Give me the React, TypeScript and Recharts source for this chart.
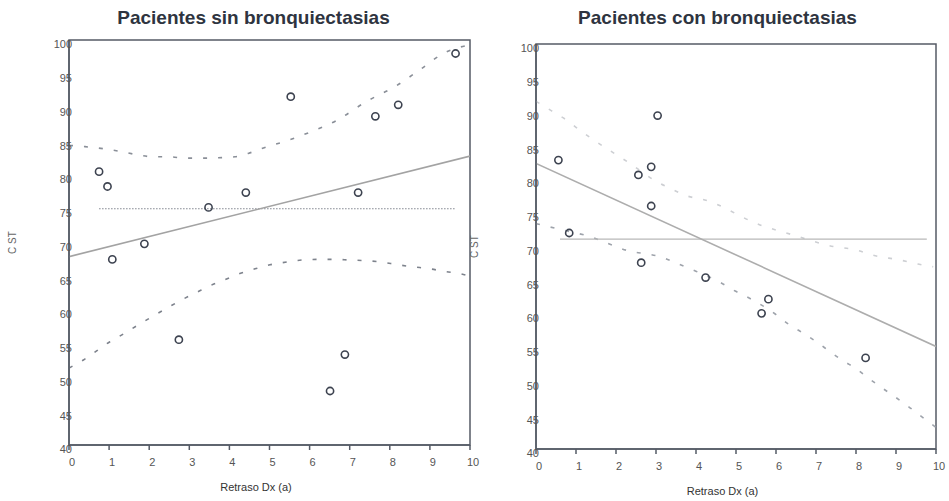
import React from "react";
import { ComposedChart, Scatter, Line, XAxis, YAxis, ReferenceArea, Label } from "recharts";

const xTicks = [0, 1, 2, 3, 4, 5, 6, 7, 8, 9, 10];
const yTicks = [40, 45, 50, 55, 60, 65, 70, 75, 80, 85, 90, 95, 100];

// ── Pacientes sin bronquiectasias ──────────────────────────────────────────
const sinX = [0.75, 0.96, 1.08, 1.88, 2.74, 3.48, 4.41, 5.53, 6.51, 6.88, 7.21, 7.64, 8.21, 9.64];
const sinY = [80.5, 78.3, 67.5, 69.8, 55.6, 75.2, 77.4, 91.6, 48.0, 53.4, 77.4, 88.7, 90.4, 98.0];
const sinFitX = [0, 10];
const sinFitY = [67.9, 82.8];
const sinMeanX = [0.75, 9.64];
const sinMeanY = [75.0, 75.0];
const sinUpX = [0, 0.4, 0.85, 1.27, 1.7, 2.09, 2.47, 2.92, 3.34, 4.14, 4.47, 4.85, 5.5, 5.99, 6.68, 7.42, 8.13, 8.8, 9.33, 10];
const sinUpY = [84.4, 84.2, 83.9, 83.5, 83.0, 82.7, 82.7, 82.5, 82.5, 82.7, 83.2, 84.0, 85.2, 86.3, 88.1, 90.9, 93.1, 95.8, 98.0, 99.3];
const sinLoX = [0, 0.36, 1.02, 1.4, 1.73, 2.1, 2.48, 2.81, 3.18, 3.52, 3.89, 4.26, 4.64, 5.01, 5.43, 5.8, 6.2, 6.63, 7.0, 7.42, 7.8, 8.2, 8.58, 9.0, 9.38, 9.75, 10];
const sinLoY = [51.4, 52.6, 55.3, 56.6, 57.8, 59.1, 60.4, 61.5, 62.6, 63.6, 64.5, 65.4, 66.1, 66.7, 67.1, 67.4, 67.5, 67.5, 67.4, 67.3, 67.1, 66.7, 66.4, 66.1, 65.7, 65.4, 65.0];

// ── Pacientes con bronquiectasias ──────────────────────────────────────────
const conX = [0.56, 0.83, 2.56, 2.63, 2.88, 2.88, 3.04, 4.24, 5.64, 5.81, 8.24];
const conY = [82.8, 72.0, 80.6, 67.6, 81.8, 76.0, 89.4, 65.4, 60.1, 62.2, 53.5];
const conFitX = [0, 10];
const conFitY = [82.3, 55.2];
const conMeanX = [0.6, 9.77];
const conMeanY = [71.1, 71.1];
const conUpX = [0, 0.39, 0.77, 1.06, 1.39, 2.35, 3.02, 3.39, 3.77, 4.22, 5.6, 6.43, 7.43, 8.0, 8.43, 9.1, 9.55, 9.93];
const conUpY = [91.5, 90.1, 88.7, 87.4, 86.0, 82.3, 79.6, 78.5, 77.5, 76.9, 73.2, 71.7, 70.0, 69.5, 68.7, 68.0, 67.4, 67.0];
const conLoX = [0, 0.48, 1.27, 2.43, 2.77, 3.1, 3.52, 3.89, 4.6, 4.98, 5.35, 5.98, 6.31, 6.64, 6.98, 7.31, 7.64, 7.98, 8.31, 8.64, 8.98, 9.31, 9.64, 10];
const conLoY = [73.4, 72.7, 71.6, 69.2, 68.9, 68.5, 67.5, 66.6, 64.7, 63.4, 62.3, 60.0, 58.5, 57.3, 56.0, 54.6, 53.2, 52.0, 50.5, 49.1, 47.7, 46.3, 44.8, 43.2];

const FONT = '"Liberation Sans", Arial, Helvetica, sans-serif';
const AXIS = "#555b66";
const TEXT = "#555555";

const pts = (xs: number[], ys: number[]) => xs.map((x, i) => ({ x, y: ys[i] }));

function XTick({ x, y, payload }: any) {
    return (
        <text x={x + 3} y={y + 6} dy="0.71em" textAnchor="middle" fontSize={11} fill={TEXT} stroke="none" fontFamily={FONT}>
            {payload.value}
        </text>
    );
}

function YTick({ x, y, payload }: any) {
    return (
        <text x={x + 3} y={y + 4.5} dy="0.35em" textAnchor="end" fontSize={11} fill={TEXT} stroke="none" fontFamily={FONT}>
            {payload.value}
        </text>
    );
}

function Circle({ cx, cy }: any) {
    return <circle cx={cx} cy={cy} r={3.6} fill="none" stroke="#3d4350" strokeWidth={1.6} />;
}

type PanelProps = {
    left: number;
    width: number;
    margin: { top: number; right: number; bottom: number; left: number };
    yWidth: number;
    yLabelX: number;
    points: { x: number; y: number }[];
    fit: { x: number; y: number }[];
    mean: { x: number; y: number }[];
    upper: { x: number; y: number }[];
    lower: { x: number; y: number }[];
    fitStroke: string;
    meanStroke: string;
    meanDash?: string;
    upperStroke: string;
    lowerStroke: string;
};

function Panel(p: PanelProps) {
    return (
        <div style={{ position: "absolute", left: p.left, top: 0 }}>
            <ComposedChart width={p.width} height={501} margin={p.margin}>
                <XAxis
                    type="number"
                    dataKey="x"
                    domain={[0, 10]}
                    ticks={xTicks}
                    interval={0}
                    allowDataOverflow
                    height={30}
                    tickSize={5}
                    tickMargin={2}
                    tick={<XTick />}
                    axisLine={{ stroke: AXIS, strokeWidth: 1.5 }}
                    tickLine={{ stroke: AXIS, strokeWidth: 1.5 }}
                >
                    <Label
                        content={({ viewBox }: any) => (
                            <text
                                x={viewBox.x + viewBox.width / 2 - 13.5}
                                y={viewBox.y + 45.5}
                                textAnchor="middle"
                                fontSize={11}
                                fill="#333"
                                fontFamily={FONT}
                            >
                                Retraso Dx (a)
                            </text>
                        )}
                    />
                </XAxis>
                <YAxis
                    type="number"
                    dataKey="y"
                    domain={[40, 100]}
                    ticks={yTicks}
                    interval={0}
                    allowDataOverflow
                    width={p.yWidth}
                    tickSize={0}
                    tickMargin={0}
                    tickLine={false}
                    tick={<YTick />}
                    axisLine={{ stroke: AXIS, strokeWidth: 1.5 }}
                >
                    <Label
                        content={({ viewBox }: any) => {
                            const lx = viewBox.x + p.yLabelX;
                            const ly = viewBox.y + viewBox.height / 2;
                            return (
                                <text
                                    x={lx}
                                    y={ly}
                                    transform={`rotate(-90, ${lx}, ${ly})`}
                                    textAnchor="middle"
                                    fontSize={10}
                                    fill="#666"
                                    fontFamily={FONT}
                                >
                                    C ST
                                </text>
                            );
                        }}
                    />
                </YAxis>
                <Line data={p.upper} dataKey="y" type="monotone" stroke={p.upperStroke} strokeWidth={1.6} strokeDasharray="4 11" dot={false} isAnimationActive={false} />
                <Line data={p.lower} dataKey="y" type="monotone" stroke={p.lowerStroke} strokeWidth={1.6} strokeDasharray="4 11" dot={false} isAnimationActive={false} />
                <Line data={p.mean} dataKey="y" type="linear" stroke={p.meanStroke} strokeWidth={1.1} strokeDasharray={p.meanDash} dot={false} isAnimationActive={false} />
                <Line data={p.fit} dataKey="y" type="linear" stroke={p.fitStroke} strokeWidth={1.6} dot={false} isAnimationActive={false} />
                <Scatter data={p.points} dataKey="y" shape={<Circle />} isAnimationActive={false} />
                <ReferenceArea x1={0} x2={10} y1={40} y2={100} fill="none" stroke={AXIS} strokeWidth={1.5} />
            </ComposedChart>
        </div>
    );
}

const titleStyle: React.CSSProperties = {
    position: "absolute",
    top: 8,
    width: 400,
    textAlign: "center",
    fontFamily: FONT,
    fontWeight: "bold",
    fontSize: 19,
    lineHeight: "20px",
    color: "#2e3440",
    whiteSpace: "nowrap",
};

export default function App() {
    return (
        <div style={{ position: "absolute", left: 0, top: 0, width: 949, height: 501, background: "#fff", overflow: "hidden" }}>
            <div style={{ ...titleStyle, left: 253.5 - 200 }}>Pacientes sin bronquiectasias</div>
            <div style={{ ...titleStyle, left: 717.5 - 200 }}>Pacientes con bronquiectasias</div>
            <Panel
                left={0}
                width={480}
                margin={{ top: 40, right: 10, bottom: 26, left: 0 }}
                yWidth={69}
                yLabelX={15.5}
                points={pts(sinX, sinY)}
                fit={pts(sinFitX, sinFitY)}
                mean={pts(sinMeanX, sinMeanY)}
                upper={pts(sinUpX, sinUpY)}
                lower={pts(sinLoX, sinLoY)}
                fitStroke="#a3a3a3"
                meanStroke="#80858f"
                meanDash="1.5 1.5"
                upperStroke="#8a8f98"
                lowerStroke="#7d828c"
            />
            <Panel
                left={470}
                width={479}
                margin={{ top: 44, right: 13, bottom: 22, left: 0 }}
                yWidth={66}
                yLabelX={7.5}
                points={pts(conX, conY)}
                fit={pts(conFitX, conFitY)}
                mean={pts(conMeanX, conMeanY)}
                upper={pts(conUpX, conUpY)}
                lower={pts(conLoX, conLoY)}
                fitStroke="#adadad"
                meanStroke="#b8b8b8"
                upperStroke="#cdcfd3"
                lowerStroke="#9ea3ab"
            />
        </div>
    );
}
